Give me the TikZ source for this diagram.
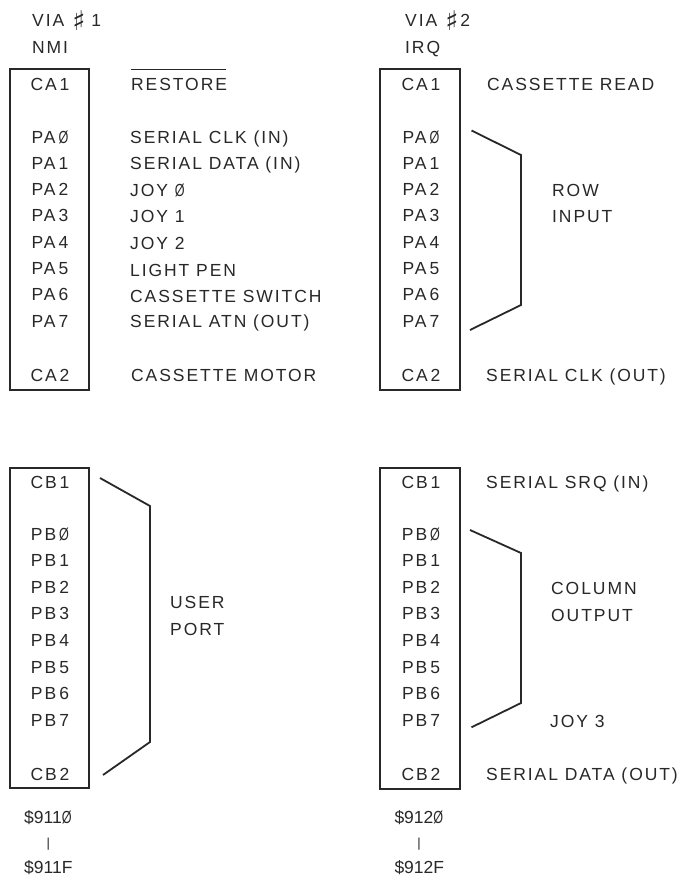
\documentclass[tikz,border=0pt]{standalone}
\usepackage{fontspec}
\usepackage{graphicx}
\setmainfont{Liberation Sans}[LetterSpace=11]
\newfontfamily\plainfont{Liberation Sans}
\newfontfamily\symfont{DejaVu Sans}
\newcommand{\sz}{\scalebox{0.72}[1]{Ø}}
\newcommand{\dg}[1]{\ifnum#1=0 \sz\else#1\fi}
\newcommand{\shp}{\raisebox{-3.8pt}{\scalebox{1.55}{\symfont ♯}}}
\definecolor{ink}{RGB}{40,40,40}
\tikzset{
  chip/.style={draw=ink, line width=1.8pt, inner sep=0pt, minimum width=79.5pt},
  pin/.style={anchor=base, inner sep=0pt, text=ink, font=\fontsize{17.5}{20}\selectfont},
  lbl/.style={anchor=base west, inner sep=0pt, text=ink, font=\fontsize{17.5}{20}\selectfont},
  addr/.style={anchor=base west, inner sep=0pt, text=ink, font=\plainfont\fontsize{17.5}{20}\selectfont},
  bar/.style={inner sep=0pt, text=ink, font=\plainfont\fontsize{13}{14}\selectfont},
  brk/.style={draw=ink, line width=1.8pt, line join=miter}
}
\begin{document}
\begin{tikzpicture}[x=1pt, y=-1pt]
\useasboundingbox[fill=white] (0,0) rectangle (681,878);

% ---------- headers ----------
\node[lbl] (h1) at (32,27) {VIA\hspace{8pt}\shp\hspace{6pt}1};
\node[lbl] (h1b) at (32,53) {NMI};
\node[lbl] (h2) at (405,27) {VIA\hspace{8pt}\shp\hspace{2pt}2};
\node[lbl] (h2b) at (405,53) {IRQ};

% ---------- boxes ----------
\node[chip, minimum height=321pt] (boxA) at (49.5,229.5) {};
\node[chip, minimum height=321pt] (boxB) at (420,229.5) {};
\node[chip, minimum height=320pt] (boxC) at (49.5,628) {};
\node[chip, minimum height=321pt] (boxD) at (420,628.5) {};

% ---------- VIA 1 port A ----------
\node[pin] (a-ca1) at (50,90) {CA\kern3pt1};
\foreach \i in {0,...,7}
  \node[pin] (a-pa\i) at (50,{143+26.3*\i}) {PA\kern3pt\dg{\i}};
\node[pin] (a-ca2) at (50,381) {CA\kern3pt2};

\node[lbl] (restore) at (131,90) {RESTORE};
\draw[ink, line width=1.3pt] ([yshift=20.5pt]restore.base west) -- ([yshift=20.5pt,xshift=-1.5pt]restore.base east);
\node[lbl] (l0) at (130,143) {SERIAL CLK (IN)};
\node[lbl] (l1) at (130,169.3) {SERIAL DATA (IN)};
\node[lbl] (l2) at (130,196) {JOY \sz};
\node[lbl] (l3) at (130,222) {JOY 1};
\node[lbl] (l4) at (130,249) {JOY 2};
\node[lbl] (l5) at (130,276) {LIGHT PEN};
\node[lbl] (l6) at (130,302.7) {CASSETTE SWITCH};
\node[lbl] (l7) at (130,327.7) {SERIAL ATN (OUT)};
\node[lbl] (lm) at (131,381) {CASSETTE MOTOR};

% ---------- VIA 2 port A ----------
\node[pin] (b-ca1) at (421,90) {CA\kern3pt1};
\foreach \i in {0,...,7}
  \node[pin] (b-pa\i) at (421,{143+26.3*\i}) {PA\kern3pt\dg{\i}};
\node[pin] (b-ca2) at (421,381) {CA\kern3pt2};

\node[lbl] (cread) at (487,90) {CASSETTE READ};
\node[lbl] (row) at (552,196) {ROW};
\node[lbl] (input) at (552,222) {INPUT};
\node[lbl] (sclk) at (486,381) {SERIAL CLK (OUT)};

\coordinate (r1) at (471.5,130.5);
\coordinate (r2) at (521,155);
\coordinate (r3) at (521,305);
\coordinate (r4) at (470,330);
\draw[brk] (r1) -- (r2) -- (r3) -- (r4);

% ---------- VIA 1 port B ----------
\node[pin] (c-cb1) at (50,488) {CB\kern3pt1};
\foreach \i in {0,...,7}
  \node[pin] (c-pb\i) at (50,{540+26.6*\i}) {PB\kern3pt\dg{\i}};
\node[pin] (c-cb2) at (50,780) {CB\kern3pt2};

\node[lbl] (user) at (170,608.3) {USER};
\node[lbl] (port) at (170,635) {PORT};

\coordinate (u1) at (100,478);
\coordinate (u2) at (150,506);
\coordinate (u3) at (150,742);
\coordinate (u4) at (103,775);
\draw[brk] (u1) -- (u2) -- (u3) -- (u4);

% ---------- VIA 2 port B ----------
\node[pin] (d-cb1) at (421,488) {CB\kern3pt1};
\foreach \i in {0,...,7}
  \node[pin] (d-pb\i) at (421,{540+26.6*\i}) {PB\kern3pt\dg{\i}};
\node[pin] (d-cb2) at (421,780) {CB\kern3pt2};

\node[lbl] (srq) at (486,488) {SERIAL SRQ (IN)};
\node[lbl] (col) at (551,594.3) {COLUMN};
\node[lbl] (out) at (551,621) {OUTPUT};
\node[lbl] (joy3) at (550,727.5) {JOY 3};
\node[lbl] (sdata) at (486,780) {SERIAL DATA (OUT)};

\coordinate (k1) at (470,530);
\coordinate (k2) at (521,553);
\coordinate (k3) at (521,703);
\coordinate (k4) at (471.5,727.3);
\draw[brk] (k1) -- (k2) -- (k3) -- (k4);

% ---------- addresses ----------
\node[addr] (ad1) at (24,823.3) {\$911\sz};
\node[bar] (bar1) at (48.3,844) {|};
\node[addr] (ad1b) at (24,873.5) {\$911F};
\node[addr] (ad2) at (394.3,823.3) {\$912\sz};
\node[bar] (bar2) at (419,844) {|};
\node[addr] (ad2b) at (394.3,873.5) {\$912F};
\end{tikzpicture}
\end{document}
